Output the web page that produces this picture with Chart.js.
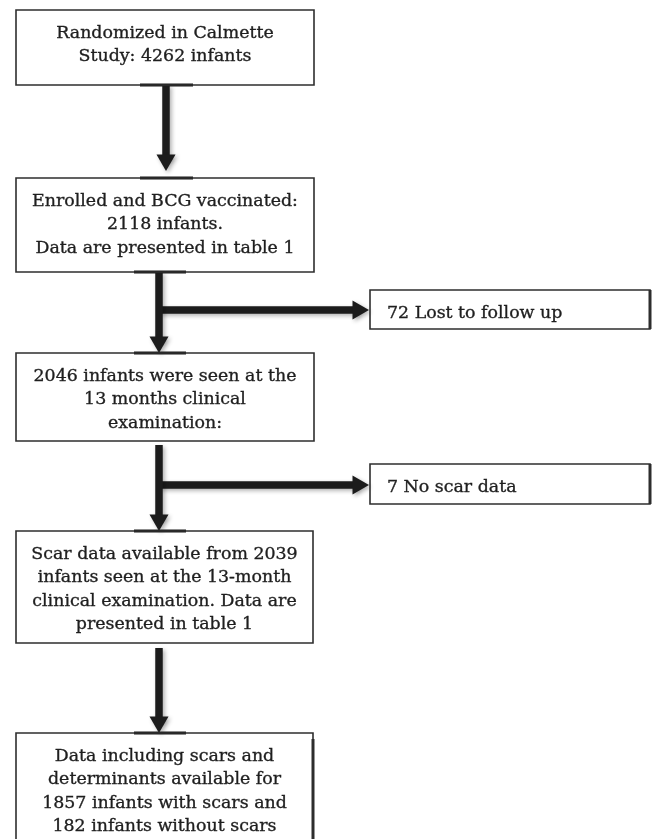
<!DOCTYPE html>
<html>
<head>
<meta charset="utf-8">
<title>Calmette study flow</title>
<script src="https://cdn.jsdelivr.net/npm/chart.js@4.4.1/dist/chart.umd.min.js"></script>
<style>
  html, body { margin: 0; padding: 0; background: #fff; }
  #wrap { width: 654px; height: 839px; }
</style>
</head>
<body>
<div id="wrap"><canvas id="flowChart"></canvas></div>
<script>
// --- box texts, top to bottom ---
const stageLabels = [
    ['Randomized in Calmette', 'Study: 4262 infants'],
    ['Enrolled and BCG vaccinated:', '2118 infants.', 'Data are presented in table 1'],
    ['2046 infants were seen at the', '13 months clinical', 'examination:'],
    ['Scar data available from 2039', 'infants seen at the 13-month', 'clinical examination. Data are', 'presented in table 1'],
    ['Data including scars and', 'determinants available for', '1857 infants with scars and', '182 infants without scars']
];
const exclusionLabels = ['72 Lost to follow up', '7 No scar data'];

// --- layout (page pixels, y grows downwards) ---
const stageBoxes = [
    { left: 16, right: 314, top: 10, bottom: 85 },
    { left: 16, right: 314, top: 178, bottom: 272 },
    { left: 16, right: 314, top: 353, bottom: 441 },
    { left: 16, right: 313, top: 531, bottom: 643 },
    { left: 16, right: 313, top: 733, bottom: 860 }   // runs off the bottom
];
const exclusionBoxes = [
    { left: 370, right: 650, top: 290, bottom: 329 },
    { left: 370, right: 650, top: 464, bottom: 504 }
];
// vertical arrows: x, start y, tip y
const downArrows = [
    { x: 166, from: 85, to: 171 },
    { x: 159, from: 272, to: 353 },
    { x: 159, from: 445, to: 531 },
    { x: 159, from: 648, to: 733 }
];
// side arrows: y, start x, tip x
const sideArrows = [
    { y: 310, from: 159, to: 369 },
    { y: 485, from: 159, to: 369 }
];
// short heavy strokes where arrows meet boxes
const joinMarks = [
    { x1: 140, x2: 193, y: 85 }, { x1: 140, x2: 193, y: 178 },
    { x1: 134, x2: 186, y: 272 }, { x1: 134, x2: 186, y: 353 },
    { x1: 134, x2: 186, y: 531 }, { x1: 134, x2: 186, y: 733 }
];

const INK = '#1c1c1c';
const BOX_LINE = '#2e2e2e';
const TEXT_COLOR = '#1f1f1f';
const HEAD = 11;          // arrowhead radius
const SHAFT = 7.5;
const FONT = '17.4px "DejaVu Serif", serif';
const LINE_H = 23.3;
const FIRST_BASE = 28;

function outline(b) {
    return [
        { x: b.left, y: b.top }, { x: b.right, y: b.top },
        { x: b.right, y: b.bottom }, { x: b.left, y: b.bottom },
        { x: b.left, y: b.top }
    ];
}

function boxDataset(b) {
    return {
        data: outline(b), showLine: true, borderColor: BOX_LINE, borderWidth: 1.6,
        borderJoinStyle: 'miter', borderCapStyle: 'square', pointRadius: 0, fill: false
    };
}

function segment(points, width, color) {
    return {
        data: points, showLine: true, borderColor: color, borderWidth: width,
        borderCapStyle: 'butt', pointRadius: 0, fill: false
    };
}

const datasets = [];

stageBoxes.forEach(b => datasets.push(boxDataset(b)));
exclusionBoxes.forEach(b => datasets.push(boxDataset(b)));

// heavier right edges seen in the original
exclusionBoxes.forEach(b => datasets.push(segment([{ x: b.right, y: b.top }, { x: b.right, y: b.bottom }], 3, BOX_LINE)));
datasets.push(segment([{ x: stageBoxes[4].right, y: stageBoxes[4].top + 6 }, { x: stageBoxes[4].right, y: 860 }], 3, BOX_LINE));

joinMarks.forEach(m => datasets.push(segment([{ x: m.x1, y: m.y }, { x: m.x2, y: m.y }], 3, INK)));

downArrows.forEach(a => {
    const ds = segment([{ x: a.x, y: a.from }, { x: a.x, y: a.to - HEAD }], SHAFT, INK);
    ds.pointStyle = 'triangle';
    ds.pointRadius = [0, HEAD];
    ds.pointRotation = 180;
    ds.pointBackgroundColor = INK;
    ds.pointBorderWidth = 0;
    ds.shadow = true;
    datasets.push(ds);
});
sideArrows.forEach(a => {
    const ds = segment([{ x: a.from, y: a.y }, { x: a.to - HEAD, y: a.y }], SHAFT, INK);
    ds.pointStyle = 'triangle';
    ds.pointRadius = [0, HEAD];
    ds.pointRotation = 90;
    ds.pointBackgroundColor = INK;
    ds.pointBorderWidth = 0;
    ds.shadow = true;
    datasets.push(ds);
});

// soft drop shadow under the arrows
const shadowPlugin = {
    id: 'arrowShadow',
    beforeDatasetDraw(chart, args) {
        if (!chart.data.datasets[args.index].shadow) return;
        const ctx = chart.ctx;
        ctx.save();
        ctx.shadowColor = 'rgba(0,0,0,0.3)';
        ctx.shadowBlur = 4;
        ctx.shadowOffsetX = 2;
        ctx.shadowOffsetY = 2;
    },
    afterDatasetDraw(chart, args) {
        if (!chart.data.datasets[args.index].shadow) return;
        chart.ctx.restore();
    }
};

// box texts
const textPlugin = {
    id: 'boxText',
    afterDatasetsDraw(chart) {
        const ctx = chart.ctx;
        const sx = chart.scales.x, sy = chart.scales.y;
        ctx.save();
        ctx.font = FONT;
        ctx.fillStyle = TEXT_COLOR;
        ctx.strokeStyle = TEXT_COLOR;
        ctx.lineWidth = 0.35;   // a touch heavier, like the original print
        ctx.textBaseline = 'alphabetic';

        const put = (s, x, y) => { ctx.fillText(s, x, y); ctx.strokeText(s, x, y); };

        ctx.textAlign = 'center';
        stageLabels.forEach((lines, i) => {
            const b = stageBoxes[i];
            const cx = sx.getPixelForValue((b.left + b.right) / 2);
            lines.forEach((line, j) => {
                put(line, cx, sy.getPixelForValue(b.top + FIRST_BASE + j * LINE_H));
            });
        });

        ctx.textAlign = 'left';
        exclusionLabels.forEach((line, i) => {
            const b = exclusionBoxes[i];
            put(line, sx.getPixelForValue(b.left + 17), sy.getPixelForValue(b.top + 27.5));
        });
        ctx.restore();
    }
};

new Chart(document.getElementById('flowChart'), {
    type: 'scatter',
    data: { datasets: datasets },
    options: {
        responsive: true,
        maintainAspectRatio: false,
        animation: false,
        events: [],
        layout: { padding: 0, autoPadding: false },
        plugins: { legend: { display: false }, tooltip: { enabled: false } },
        scales: {
            x: { type: 'linear', min: 0, max: 654, display: false },
            y: { type: 'linear', min: 0, max: 839, reverse: true, display: false }
        }
    },
    plugins: [shadowPlugin, textPlugin]
});
</script>
</body>
</html>
